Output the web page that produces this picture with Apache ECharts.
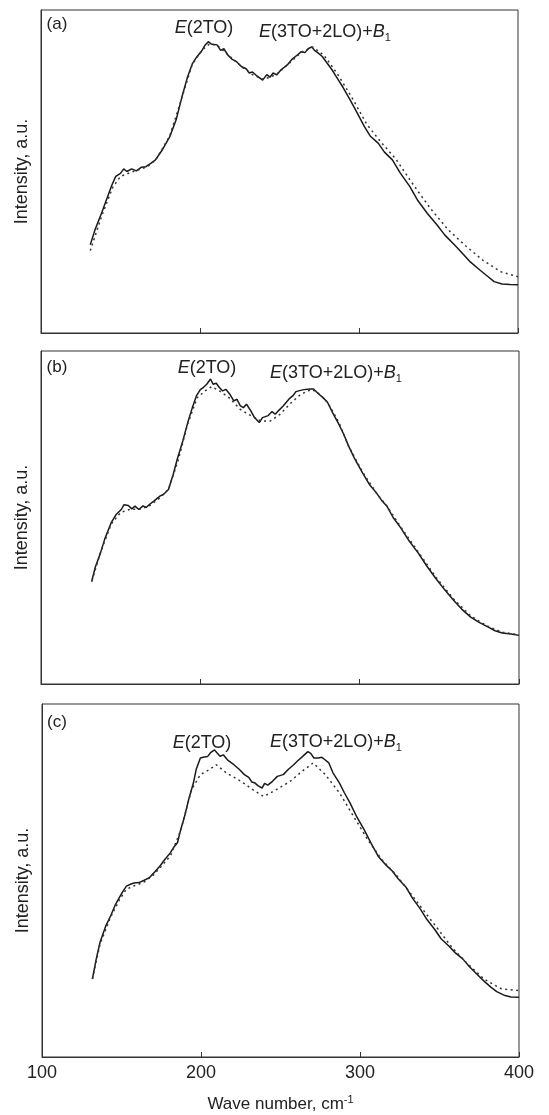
<!DOCTYPE html>
<html>
<head>
<meta charset="utf-8">
<script src="https://cdn.jsdelivr.net/npm/echarts@6/dist/echarts.min.js"></script>
<style>
  html, body { margin: 0; padding: 0; background: #fff; }
  #chart { width: 549px; height: 1115px; }
</style>
</head>
<body>
<div id="chart"></div>
<script>
// x ticks (wave number, cm-1)
var xTicks = [100, 200, 300, 400]

// panel (a)
var aSolid = [[131,27.3],[134,32],[138,37],[141,41],[144.6,45.8],[147,48.5],[150,49.4],[152,50.8],[154,50],[157,50.8],[160,50.2],[163,51.3],[166,51.5],[169,52.5],[172,53.6],[176,56.5],[181,60.8],[185,66],[188.7,73.2],[192,79],[195.3,83.5],[198,85.5],[200.8,87.1],[203,89],[205.2,90.2],[207,89.5],[208,90],[210.7,89.2],[213,87.5],[215,88],[217.4,86.1],[220,84.8],[223,84],[226,82.5],[229,81.8],[231,80.5],[233,80.8],[236,79.5],[239.4,78.3],[242,80],[244,79.2],[246,80.5],[248.2,79.9],[251,81.5],[254.9,83],[258,84.8],[261,86],[263.7,87.1],[266,86.8],[268,88],[270.3,88.6],[272,87.5],[274,86.8],[276.9,85.6],[280,83.5],[283,81.5],[285.7,79.4],[290,76],[294.5,72.1],[299,68],[303.4,63.9],[307,61],[312.2,58.7],[316,56],[321,53.6],[326,49.5],[332,45.3],[337,41],[343,37],[349,33.5],[354,30.3],[360,27.3],[365,24.7],[370,22],[376,19.5],[381,17.5],[385,15.9],[390,15.2],[395,15],[400,14.9]]
var aDot = [[131,25.5],[138,36],[145,45],[150,48.5],[158,50],[167,51.5],[172,53.5],[181,61],[189,73.5],[195,83],[201,87.5],[206,89.5],[211,89],[218,86],[226,82.5],[233,80],[240,78.5],[248,80],[255,83],[264,87],[271,88.5],[278,86],[287,79.8],[296,72.5],[305,64.5],[314,59],[323,54],[334,46],[345,38.5],[356,32],[367,27],[378,22.5],[389,19],[400,17.4]]

// panel (b)
var bSolid = [[131.8,30.7],[134,35],[137.3,39.3],[140,43.5],[143.9,48.3],[147,50.8],[150.4,52.4],[152,53.8],[154.8,53.6],[157,52.6],[159,53.4],[161.4,52.4],[164,53.5],[166,53],[168,53.9],[171,55],[174.6,56.4],[177,57],[180,58.4],[183,63],[185.5,67.5],[189,73],[192.1,78.5],[195,83],[197.6,86.6],[200,88.4],[202,89.1],[204,90],[206.4,91.6],[208,90],[210,90.3],[211.8,89.1],[214,88],[216,88.5],[218.4,87.1],[221,85],[223,85.5],[225,83.6],[227,83],[229,84],[231.6,82.1],[234,80],[237,78.5],[239,80],[242.6,80.6],[245,81.8],[247,81],[249.1,82.1],[252,83.5],[255.7,85.6],[258,86.5],[260,87.8],[262.3,88.1],[265,88.4],[268.9,88.6],[271,88.6],[274.3,87.1],[277,86],[279.8,84.6],[283,81.5],[286.4,78.5],[290,75],[293,71.5],[297,67.5],[301.8,63.4],[306,60],[310.5,57.4],[314,55],[317.1,53.4],[321,50],[325.9,46.8],[331,43],[336.8,39.3],[342,35.5],[347.8,31.7],[353,28.5],[358.8,25.2],[364,22.5],[369.7,20.1],[375,18.5],[380.7,17.1],[385,16],[389.5,15.3],[395,15],[400,14.6]]
var bDot = [[132,31],[137,39],[144,48],[150,51.5],[156,52.5],[162,52.5],[168,53.5],[175,56],[180,58.5],[186,67],[192,78],[198,86],[203,88],[207,89.3],[212,88],[218,86],[225,82.5],[232,80.5],[238,79],[244,79],[250,81],[256,84],[263,87],[270,88.5],[275,87],[280,84.5],[287,78.5],[293,71.5],[302,63.5],[311,57],[317,53.5],[326,47],[337,39.5],[348,32],[359,25.5],[370,20.3],[381,17.2],[390,15.5],[400,14.8]]

// panel (c)
var cSolid = [[131.7,22.1],[134,27.5],[136.5,32.5],[140,37],[143.2,40],[146,43],[148.7,45.2],[151,47],[153.1,48.4],[156,49],[158,49.3],[160.9,49.4],[164,50],[167.5,50.8],[171,52.5],[174.2,54.1],[177,55.8],[180.8,57.9],[183,59.5],[185.2,60.7],[187,64],[189.7,68.2],[192,72.5],[195.2,77.6],[197,81.5],[199.6,84.7],[202,85],[204.1,85.1],[206,86.2],[208.5,87],[210,86.2],[212,85.2],[214,85.6],[217,84],[220.7,82.8],[224,81.5],[227.3,80],[230,79.2],[232,77.9],[234,77.6],[236,76.8],[238.4,76.2],[240,77.5],[242,77],[245,78.1],[248,79.5],[251.7,80],[255,81.5],[258.3,82.8],[261,84],[263.8,85.1],[265,85.4],[267.2,86.5],[269,86],[271,84.7],[273.8,84.7],[276,84.9],[278,84.2],[280.4,83.3],[283,80.5],[287.1,77.6],[290,75],[293.7,72],[298,68],[302.6,64.4],[307,60.5],[311.4,56.9],[316,54.5],[320.3,52.7],[324,50.5],[329.1,48],[333,45],[338,41.9],[342,39],[346.9,36.2],[351,33.5],[355.7,31.5],[360,29.5],[364.6,27.8],[369,25.5],[373.4,23.5],[378,21.5],[382.3,19.8],[386,18.5],[391.2,17.4],[395,17],[400,16.9]]
var cDot = [[131.7,22.1],[136.5,32],[143,39.5],[148.7,44.5],[153,47.5],[158,48.5],[164,49.5],[170,51.5],[175,54],[180.8,57],[187.4,64.4],[194,75.7],[199.6,80],[205.2,81.4],[209.6,82.8],[216.2,80.4],[225.1,78.1],[234,75.3],[239.5,73.8],[247.2,75.7],[256.1,78.1],[264.9,81.4],[270.5,83.3],[278.2,80],[287.1,74.8],[295.9,68.2],[304.8,61.6],[313.6,56],[322.5,51.7],[331.4,46.6],[340.2,41.4],[349.1,36.2],[357.9,31],[366.8,26.8],[377.9,22.1],[389,19.3],[400,18.8]]

var panelNames = ['(a)', '(b)', '(c)']
var peak1 = '{i|E}(2TO)'
var peak2 = '{i|E}(3TO+2LO)+{i|B}{s|1}'

var FONT = 'Liberation Sans, Arial, sans-serif'
var INK = '#222'

var grids = [
    { left: 41, right: 31, top: 10, height: 323 },
    { left: 41, right: 30, top: 351, height: 333 },
    { left: 42, right: 30, top: 704, height: 353 }
]

var xAxes = [], yAxes = []
grids.forEach(function(g, i) {
    g.show = true
    g.borderColor = '#333'
    g.borderWidth = 1
    var last = i == grids.length - 1
    xAxes.push({
        type: 'value', gridIndex: i, min: xTicks[0], max: xTicks[xTicks.length - 1], interval: 100,
        axisLine: { show: true, lineStyle: { color: '#333', width: 1 } },
        axisTick: { show: true, inside: true, length: 5, lineStyle: { color: '#333' } },
        splitLine: { show: false },
        axisLabel: { show: last, color: INK, fontSize: 18, fontFamily: FONT, margin: 7 },
        name: last ? 'Wave number, cm{sup|-1}' : '',
        nameLocation: 'middle', nameGap: 37,
        nameTextStyle: {
            color: INK, fontSize: 17, fontFamily: FONT,
            rich: { sup: { fontSize: 11, verticalAlign: 'top', padding: [0, 0, 9, 0], color: INK, fontFamily: FONT } }
        }
    })
    yAxes.push({
        type: 'value', gridIndex: i, min: 0, max: 100,
        axisLine: { show: true, lineStyle: { color: '#333' } },
        axisTick: { show: false }, axisLabel: { show: false }, splitLine: { show: false },
        name: 'Intensity, a.u.', nameLocation: 'middle', nameGap: 10,
        nameTextStyle: { color: INK, fontSize: 18, fontFamily: FONT }
    })
})

function line(data, i, dotted) {
    return {
        type: 'line', xAxisIndex: i, yAxisIndex: i, data: data,
        showSymbol: false, smooth: false, silent: true,
        lineStyle: dotted ? { color: '#333', width: 1.5, type: [2, 3.5] } : { color: '#1a1a1a', width: 1.5 }
    }
}

var rich = {
    i: { fontStyle: 'italic', fontSize: 18, fontFamily: FONT, fill: INK, lineHeight: 22 },
    s: { fontSize: 11, fontFamily: FONT, fill: INK, lineHeight: 22, verticalAlign: 'bottom', padding: [7, 0, 0, 0] }
}
function txt(x, y, s, size) {
    return {
        type: 'text', x: x, y: y, silent: true,
        style: { text: s, fill: INK, font: (size || 18) + 'px ' + FONT, align: 'center', verticalAlign: 'middle', rich: rich }
    }
}

var labels = [
    [57, 24, 204, 28, 325, 32],
    [57, 367, 207, 368, 336, 373],
    [57, 722, 202, 743, 336, 742]
]
var graphics = []
labels.forEach(function(p, i) {
    graphics.push(txt(p[0], p[1], panelNames[i], 17))
    graphics.push(txt(p[2], p[3], peak1))
    graphics.push(txt(p[4], p[5], peak2))
})

var myChart = echarts.init(document.getElementById('chart'))
var option = {
    backgroundColor: '#fff',
    animation: false,
    grid: grids,
    xAxis: xAxes,
    yAxis: yAxes,
    graphic: graphics,
    series: [
        line(aSolid, 0), line(aDot, 0, true),
        line(bSolid, 1), line(bDot, 1, true),
        line(cSolid, 2), line(cDot, 2, true)
    ]
}
myChart.setOption(option)
</script>
</body>
</html>
